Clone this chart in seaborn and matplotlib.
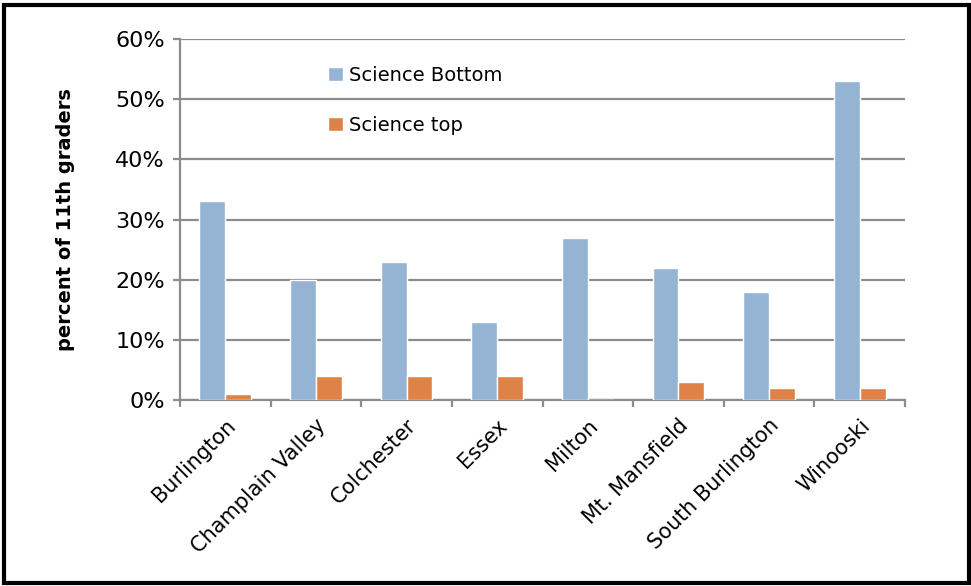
import matplotlib
matplotlib.use("Agg")
import matplotlib.pyplot as plt
from matplotlib.patches import Rectangle
from matplotlib.ticker import FixedLocator, PercentFormatter
import seaborn as sns
import pandas as pd

schools = ["Burlington", "Champlain Valley", "Colchester", "Essex", "Milton",
           "Mt. Mansfield", "South Burlington", "Winooski"]
science_bottom = [33, 20, 23, 13, 27, 22, 18, 53]
science_top = [1, 4, 4, 4, 0, 3, 2, 2]
series_names = ["Science Bottom", "Science top"]
y_ticks = [0, 10, 20, 30, 40, 50, 60]

df = pd.DataFrame({
    "school": schools * 2,
    "series": [series_names[0]] * len(schools) + [series_names[1]] * len(schools),
    "value": science_bottom + science_top,
})

sns.set_style("white")
plt.rcParams["font.family"] = ["DejaVu Sans"]
plt.rcParams["text.color"] = "black"
plt.rcParams["xtick.color"] = "black"
plt.rcParams["ytick.color"] = "black"
plt.rcParams["axes.labelcolor"] = "black"

fig = plt.figure(figsize=(9.71, 5.86), dpi=100)
ax = fig.add_axes([180 / 971, 1 - 400 / 586, 725 / 971, 361 / 586])

palette = {"Science Bottom": "#95B4D3", "Science top": "#DE8247"}
sns.barplot(data=df, x="school", y="value", hue="series", palette=palette,
            width=0.572, ax=ax, saturation=1, errorbar=None, zorder=3)

grid_col = "#8C8C8C"
ax.set_ylim(0, 60)
ax.set_xlim(-0.5, len(schools) - 0.5)
ax.yaxis.set_major_locator(FixedLocator(y_ticks))
ax.yaxis.set_major_formatter(PercentFormatter(decimals=0))
ax.grid(axis="y", color=grid_col, linewidth=1.6, zorder=0)
ax.set_axisbelow(True)

for side in ["top", "right"]:
    ax.spines[side].set_visible(False)
for side in ["left", "bottom"]:
    ax.spines[side].set_color(grid_col)
    ax.spines[side].set_linewidth(1.6)

ax.tick_params(axis="y", which="major", length=5, width=1.6, color=grid_col,
               labelsize=16, pad=6, left=True)
ax.tick_params(axis="x", which="major", length=0, labelsize=15, pad=11)
ax.set_xticks([i + 0.5 for i in range(-1, len(schools))], minor=True)
ax.tick_params(axis="x", which="minor", length=5, width=1.6, color=grid_col,
               bottom=True)
plt.setp(ax.get_xticklabels(), rotation=45, ha="right", rotation_mode="anchor")

ax.set_xlabel("")
ax.set_ylabel("percent of 11th graders", fontsize=14, fontweight="bold",
              labelpad=29)

leg = ax.legend(loc="upper left", bbox_to_anchor=(0.18, 0.975), frameon=False,
                fontsize=14, labelspacing=1.6, handlelength=0.75,
                handleheight=0.75, handletextpad=0.35)

fig.patches.append(Rectangle((4 / 971, 3 / 586), 965 / 971, 578 / 586,
                             transform=fig.transFigure, fill=False,
                             edgecolor="black", linewidth=3, zorder=10))

fig.savefig("out.png", dpi=100)
